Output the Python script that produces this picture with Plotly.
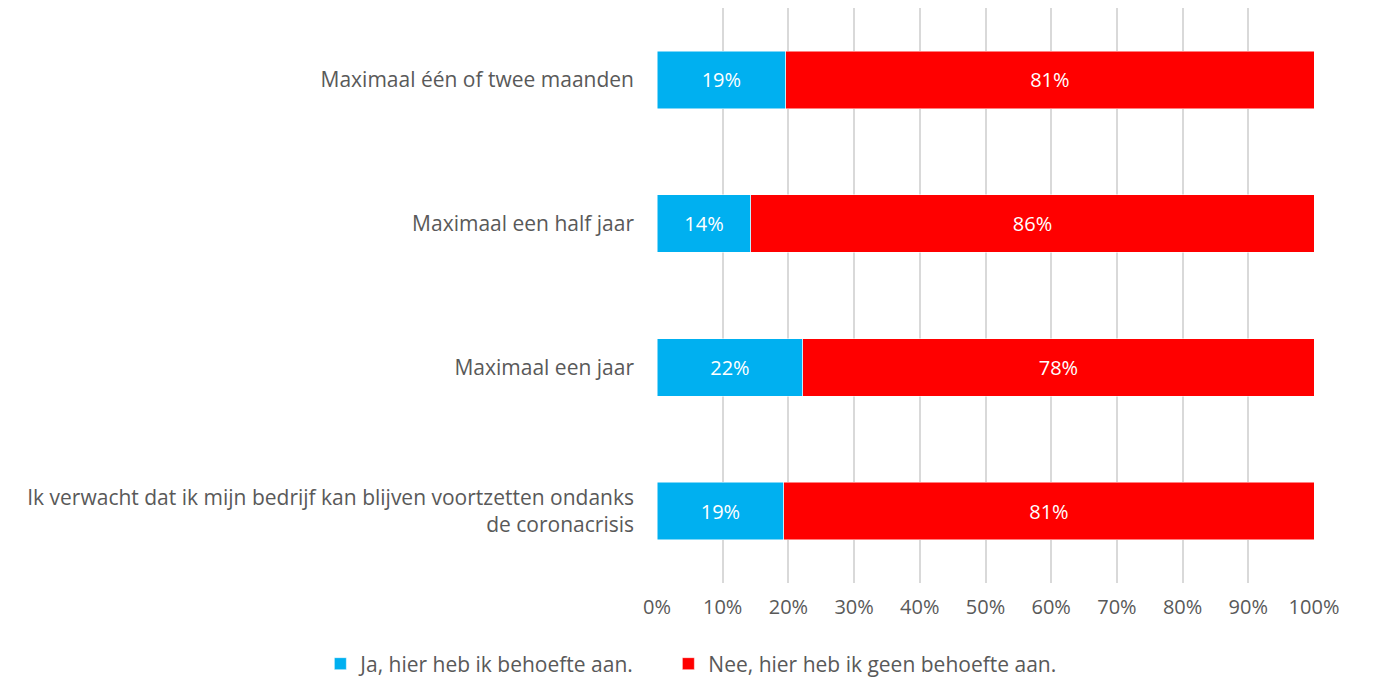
import plotly.graph_objects as go

categories = [
    "Maximaal één of twee maanden",
    "Maximaal een half jaar",
    "Maximaal een jaar",
    "Ik verwacht dat ik mijn bedrijf kan blijven voortzetten ondanks<br>de coronacrisis",
]
ja_values = [19.6, 14.3, 22.2, 19.3]
nee_values = [80.4, 85.7, 77.8, 80.7]
ja_labels = ["19%", "14%", "22%", "19%"]
nee_labels = ["81%", "86%", "78%", "81%"]
series_names = ["Ja, hier heb ik behoefte aan.", "Nee, hier heb ik geen behoefte aan."]
tick_vals = [0, 10, 20, 30, 40, 50, 60, 70, 80, 90, 100]
tick_text = [f"{v}%" for v in tick_vals]

FONT = "Open Sans"
FS = 20
FS_CAT = 21
GREY = "#595959"
fig = go.Figure()
fig.add_trace(go.Bar(
    y=categories, x=ja_values, orientation="h", name=series_names[0],
    marker=dict(color="#00B0F0", line=dict(color="white", width=0.5)),
    text=ja_labels, textposition="inside", insidetextanchor="middle",
    textfont=dict(color="white", size=FS, family=FONT), hoverinfo="skip",
    legend="legend",
))
fig.add_trace(go.Bar(
    y=categories, x=nee_values, orientation="h", name=series_names[1],
    marker=dict(color="#FF0000", line=dict(color="white", width=0.5)),
    text=nee_labels, textposition="inside", insidetextanchor="middle",
    textfont=dict(color="white", size=FS, family=FONT), hoverinfo="skip",
    legend="legend2",
))
leg_common = dict(orientation="h", xref="paper", yref="paper",
                  xanchor="left", y=-0.1409, yanchor="middle",
                  font=dict(size=FS_CAT, color=GREY, family=FONT),
                  itemwidth=30, bgcolor="rgba(0,0,0,0)")
fig.update_layout(
    barmode="stack", bargap=0.6,
    width=1379, height=682,
    margin=dict(l=657, r=65, t=8, b=99, autoexpand=False),
    paper_bgcolor="white", plot_bgcolor="white",
    font=dict(family=FONT, size=FS, color=GREY),
    showlegend=True,
    legend=dict(x=-0.5124, **leg_common),
    legend2=dict(x=0.0173, **leg_common),
)
fig.update_xaxes(range=[0, 100], tickvals=tick_vals, ticktext=tick_text,
                 showgrid=True, gridcolor="#D9D9D9", gridwidth=1.5,
                 zeroline=False, showline=False, ticks="", ticklabelstandoff=10,
                 tickfont=dict(size=FS, color=GREY))
fig.update_yaxes(autorange="reversed", showgrid=False, ticks="", showline=False,
                 ticklabelstandoff=22, tickfont=dict(size=FS_CAT, color=GREY))
fig.write_html("out.html",
               config={"displayModeBar": False},
               post_script="document.body.style.margin='0px';document.body.style.overflow='hidden';")
